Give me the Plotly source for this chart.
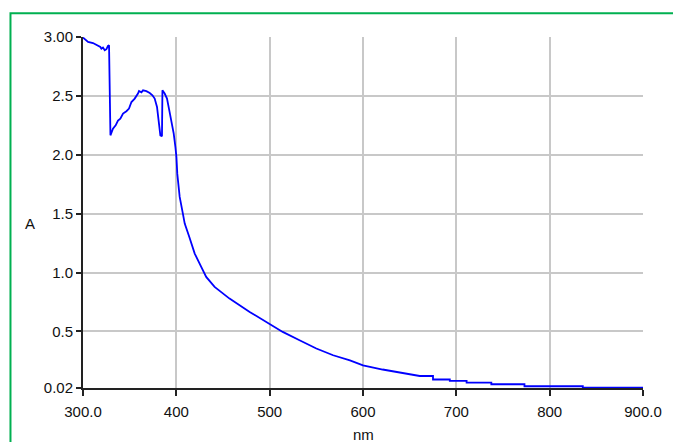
import plotly.graph_objects as go

# Wavelength (nm) and absorbance (A)
wavelength = [300.0, 305.4, 310.7, 313.6, 316.1, 318.6, 319.7, 321.4, 323.3, 325.1, 326.8, 327.9,
              329.4, 330.4, 332.1, 335.0, 337.5, 340.0, 342.9, 346.5, 349.3, 351.9, 355.4, 358.9,
              360.0, 362.6, 364.3, 367.9, 371.5, 374.4, 376.8, 379.3, 381.4, 382.9, 384.6, 385.1,
              387.5, 390.0, 392.1, 394.7, 397.2, 399.0, 400.1, 401.0, 403.6, 407.0, 409.0, 414.0,
              419.7, 426.8, 432.0, 441.0, 457.0, 478.6, 500.0, 514.0, 532.0, 550.0, 568.0, 586.0,
              600.0, 621.0, 660.8, 675.0, 675.0, 693.0, 693.0, 711.0, 711.0, 737.5, 737.5, 773.0,
              773.0, 835.5, 835.5, 900.0]
absorbance = [2.995, 2.958, 2.949, 2.935, 2.930, 2.915, 2.900, 2.910, 2.887, 2.896, 2.924, 2.930,
              2.165, 2.194, 2.222, 2.250, 2.290, 2.307, 2.350, 2.370, 2.392, 2.448, 2.477, 2.520,
              2.542, 2.530, 2.547, 2.540, 2.525, 2.505, 2.477, 2.406, 2.290, 2.165, 2.157, 2.547,
              2.520, 2.477, 2.392, 2.280, 2.180, 2.066, 1.980, 1.840, 1.642, 1.500, 1.416, 1.300,
              1.161, 1.047, 0.963, 0.878, 0.779, 0.666, 0.567, 0.496, 0.425, 0.355, 0.298, 0.255,
              0.213, 0.177, 0.122, 0.122, 0.092, 0.092, 0.080, 0.080, 0.066, 0.066, 0.052, 0.052,
              0.035, 0.035, 0.024, 0.024]

x_tickvals = [300, 400, 500, 600, 700, 800, 900]
x_ticktext = ["300.0", "400", "500", "600", "700", "800", "900.0"]
y_tickvals = [0.02, 0.5, 1.0, 1.5, 2.0, 2.5, 3.0]
y_ticktext = ["0.02", "0.5", "1.0", "1.5", "2.0", "2.5", "3.00"]

fig = go.Figure()
fig.add_trace(go.Scatter(x=wavelength, y=absorbance, mode="lines",
                         line=dict(color="#0000ff", width=1.8), showlegend=False,
                         hoverinfo="skip"))

axis_common = dict(showgrid=True, gridcolor="#c8c8c8", gridwidth=1.5,
                   showline=True, linecolor="#222222", linewidth=2,
                   ticks="outside", tickcolor="#222222", tickwidth=1.5,
                   zeroline=False, layer="below traces",
                   tickfont=dict(family="Liberation Sans, Arial, sans-serif", size=15, color="#111111"))

fig.update_xaxes(range=[300, 900], tickmode="array", tickvals=x_tickvals, ticktext=x_ticktext,
                 ticklen=6, ticklabelstandoff=3, **axis_common)
fig.update_yaxes(range=[0.02, 3.0], tickmode="array", tickvals=y_tickvals, ticktext=y_ticktext,
                 ticklen=5, **axis_common)

fig.update_layout(
    width=673, height=442,
    margin=dict(l=83, r=30, t=37, b=54),
    paper_bgcolor="white", plot_bgcolor="white",
    font=dict(family="Liberation Sans, Arial, sans-serif", size=15, color="#111111"),
    shapes=[dict(type="rect", xref="paper", yref="paper",
                 x0=-0.1295, x1=1.2, y0=-0.3, y1=1.068,
                 line=dict(color="#00b050", width=2), layer="below")],
    annotations=[
        dict(text="A", xref="paper", yref="paper", x=-0.0946, y=0.47,
             xanchor="center", yanchor="middle", showarrow=False,
             font=dict(size=15)),
        dict(text="nm", xref="paper", yref="paper", x=0.5, y=-0.133,
             xanchor="center", yanchor="middle", showarrow=False,
             font=dict(size=15)),
    ],
)

fig.write_html("out.html")
